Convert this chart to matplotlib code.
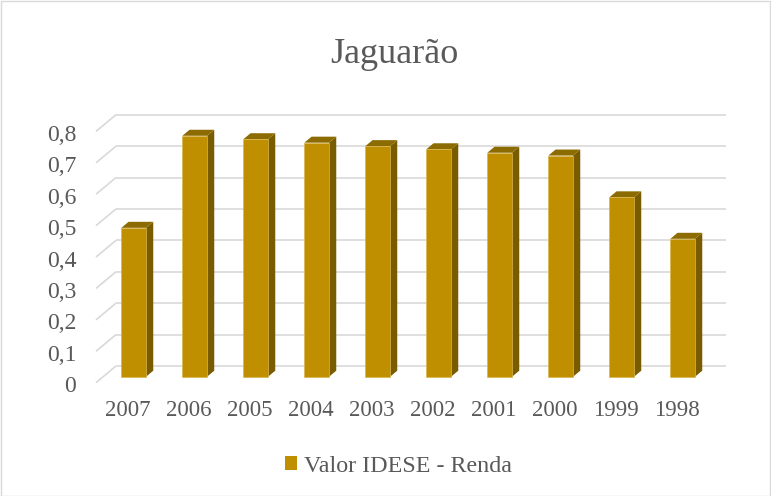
import matplotlib
matplotlib.use("Agg")
import matplotlib.pyplot as plt
import matplotlib.transforms as mtransforms
from matplotlib.patches import Polygon, Patch, Rectangle

# Data
anos = ["2007", "2006", "2005", "2004", "2003", "2002", "2001", "2000", "1999", "1998"]
valores = [0.474, 0.767, 0.756, 0.745, 0.734, 0.724, 0.713, 0.704, 0.571, 0.439]
y_ticks = [0.0, 0.1, 0.2, 0.3, 0.4, 0.5, 0.6, 0.7, 0.8]
y_labels = ["0", "0,1", "0,2", "0,3", "0,4", "0,5", "0,6", "0,7", "0,8"]
titulo = "Jaguarão"
serie = "Valor IDESE - Renda"

plt.rcParams["font.family"] = ["Liberation Serif", "DejaVu Serif"]

W, H, DPI = 771, 496, 100
TXT = "#595959"
GRID = "#D9D9D9"
FRONT = "#BF8F00"
SIDE = "#7A5C00"
TOP = "#8C6B00"

fig = plt.figure(figsize=(W / DPI, H / DPI), dpi=DPI)
fig.patch.set_facecolor("white")

# axes = plane of the bar front faces
ax_l, ax_b, ax_w, ax_h = 103.2, 376.7, 610.0, 251.3
ax = fig.add_axes([ax_l / W, 1 - ax_b / H, ax_w / W, ax_h / H])
ax.set_xlim(-0.5, len(anos) - 0.5)
ax.set_ylim(0, 0.8)
ax.axis("off")

px_x = ax_w / len(anos)   # pixels per category
px_y = ax_h / 0.8         # pixels per unit value


def shift(px, py):
    return mtransforms.ScaledTranslation(px / DPI, py / DPI, fig.dpi_scale_trans)


# depth offsets in pixels
back_dx, back_dy = 12.8, 10.7      # back wall behind bar fronts
front_dx, front_dy = -7.2, -6.0    # front edge of floor
depth_dx, depth_dy = 7.2, 6.0      # bar depth

back_tr = ax.transData + shift(back_dx, back_dy)
x0, x1 = -0.5, len(anos) - 0.5
for v in y_ticks:
    ax.plot([x0, x1], [v, v], transform=back_tr, color=GRID, lw=1.2,
            zorder=1, clip_on=False, solid_capstyle="butt")
    ax.plot([x0 + front_dx / px_x, x0 + back_dx / px_x],
            [v + front_dy / px_y, v + back_dy / px_y],
            color=GRID, lw=1.2, zorder=1, clip_on=False, solid_capstyle="butt")

# bars
w = 0.405
ddx, ddy = depth_dx / px_x, depth_dy / px_y
xs = list(range(len(anos)))
ax.bar(xs, valores, width=w, color=FRONT, edgecolor="#D9B54A",
       linewidth=0.5, zorder=3, clip_on=False)
for x, v in zip(xs, valores):
    r, l = x + w / 2, x - w / 2
    ax.add_patch(Polygon([(r, 0), (r, v), (r + ddx, v + ddy), (r + ddx, ddy)],
                         closed=True, facecolor=SIDE, edgecolor="none",
                         zorder=2.9, clip_on=False))
    ax.add_patch(Polygon([(l, v), (r, v), (r + ddx, v + ddy), (l + ddx, v + ddy)],
                         closed=True, facecolor=TOP, edgecolor="none",
                         zorder=2.9, clip_on=False))

# value axis labels
ylab_tr = ax.transData + shift(-26.9, -15.5)
for v, lab in zip(y_ticks, y_labels):
    ax.text(x0, v, lab, transform=ylab_tr, ha="right", va="baseline",
            fontsize=17, color=TXT, clip_on=False)

# category labels
xlab_tr = ax.transData + shift(-6.0, -39.3)
for x, lab in zip(xs, anos):
    ax.text(x, 0, lab, transform=xlab_tr, ha="center", va="baseline",
            fontsize=16.5, color=TXT, clip_on=False)

# title
fig.text(394 / W, 1 - 63 / H, titulo, ha="center", va="baseline",
         fontsize=26, color=TXT)

# legend
fig.legend(handles=[Patch(facecolor=FRONT, edgecolor="none")], labels=[serie],
           loc="center", bbox_to_anchor=(398.8 / W, 1 - 466 / H),
           frameon=False, fontsize=17.3, handlelength=0.5, handleheight=0.5,
           handletextpad=0.3, labelcolor=TXT)

# chart border
fig.patches.append(Rectangle((0.5 / W, 0.5 / H), 1 - 1.5 / W, 1 - 1.5 / H,
                             transform=fig.transFigure, fill=False,
                             edgecolor=GRID, lw=1))

fig.savefig("out.png", dpi=DPI)
